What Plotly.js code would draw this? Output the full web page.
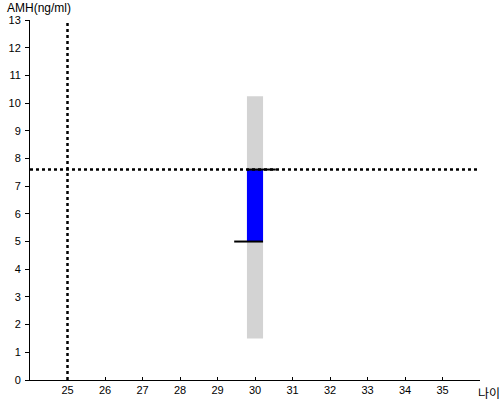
<!DOCTYPE html>
<html>
<head>
<meta charset="utf-8">
<script src="https://cdn.plot.ly/plotly-3.0.1.min.js"></script>
<style>html,body{margin:0;padding:0;background:#fff;}#chart{width:500px;height:400px;}</style>
</head>
<body>
<div id="chart"></div>
<script>
// Data
const age = [30];
const rangeLow = [1.5];
const rangeHigh = [10.25];
const valueLow = [5.0];
const valueHigh = [7.6];
const refAge = [25];
const refAMH = [7.6];
const xTicks = [25, 26, 27, 28, 29, 30, 31, 32, 33, 34, 35];
const yTicks = [0,1,2,3,4,5,6,7,8,9,10,11,12,13];

const barW = 0.43;
const capLen = 0.77;

const traces = [
  {
    type: 'bar', x: age, base: rangeLow,
    y: rangeHigh.map((h, i) => h - rangeLow[i]),
    width: barW, marker: {color: '#d3d3d3'}, hoverinfo: 'skip'
  },
  {
    type: 'bar', x: age, base: valueLow,
    y: valueHigh.map((h, i) => h - valueLow[i]),
    width: barW, marker: {color: '#0000ff'}, hoverinfo: 'skip'
  },
  {
    type: 'scatter', mode: 'lines',
    x: [age[0] - barW / 2, age[0] - barW / 2 + capLen],
    y: [valueHigh[0], valueHigh[0]],
    line: {color: '#000', width: 2}, hoverinfo: 'skip'
  },
  {
    type: 'scatter', mode: 'lines',
    x: [age[0] + barW / 2 - capLen, age[0] + barW / 2],
    y: [valueLow[0], valueLow[0]],
    line: {color: '#000', width: 2}, hoverinfo: 'skip'
  }
];

const layout = {
  width: 500, height: 400,
  margin: {l: 30, r: 20, t: 20, b: 20, pad: 0},
  paper_bgcolor: '#fff', plot_bgcolor: '#fff',
  showlegend: false, barmode: 'overlay',
  font: {family: 'Liberation Sans, Arial, sans-serif', size: 11, color: '#000'},
  xaxis: {
    range: [24, 36], tickvals: xTicks, ticktext: xTicks.map(String),
    showgrid: false, zeroline: false, showline: true, linecolor: '#000', linewidth: 1,
    ticks: 'inside', ticklen: 3, tickcolor: '#000', fixedrange: true
  },
  yaxis: {
    range: [0, 13], tickvals: yTicks, ticktext: yTicks.map(String),
    showgrid: false, zeroline: false, showline: true, linecolor: '#000', linewidth: 1,
    ticks: 'outside', ticklen: 4, tickcolor: '#000', ticklabelstandoff: 2, fixedrange: true
  },
  shapes: [
    {type: 'line', xref: 'x', yref: 'paper', x0: refAge[0], x1: refAge[0], y0: 0, y1: 1,
     line: {color: '#000', width: 2.5, dash: 'dot'}},
    {type: 'line', xref: 'paper', yref: 'y', x0: 0, x1: 1, y0: refAMH[0], y1: refAMH[0],
     line: {color: '#000', width: 2.5, dash: 'dot'}}
  ],
  annotations: [
    {text: 'AMH(ng/ml)', xref: 'paper', yref: 'paper', x: -25 / 450, y: 1,
     xanchor: 'left', yanchor: 'bottom', yshift: 3, showarrow: false,
     font: {family: 'Liberation Sans, Arial, sans-serif', size: 12, color: '#000'}},
    {text: '나이', xref: 'paper', yref: 'paper', x: 472 / 450, y: 0,
     xanchor: 'right', yanchor: 'top', yshift: -2, showarrow: false,
     font: {family: 'Noto Sans CJK KR', size: 12, color: '#000'}}
  ]
};

Plotly.newPlot('chart', traces, layout, {displayModeBar: false, staticPlot: true});
</script>
</body>
</html>
